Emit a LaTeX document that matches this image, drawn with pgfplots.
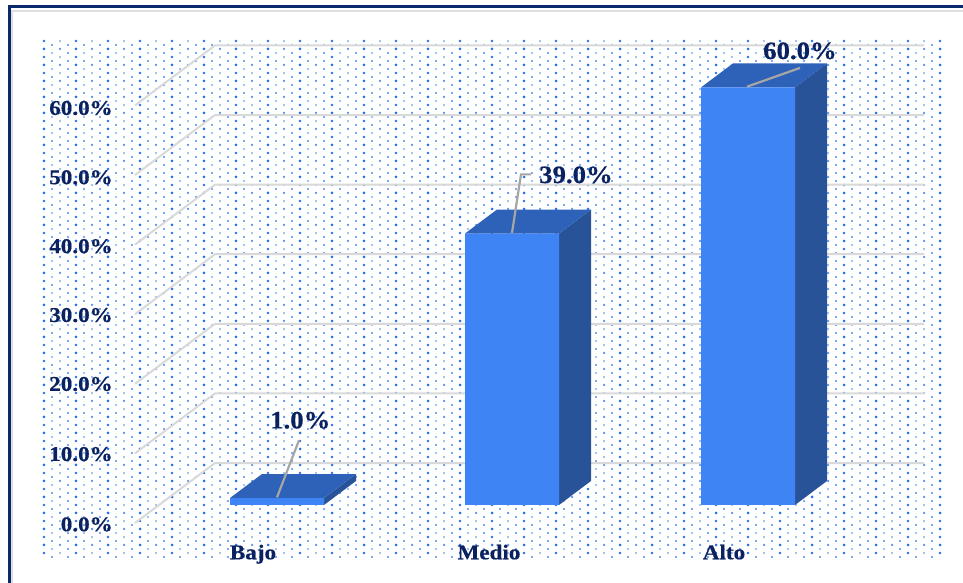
\documentclass[border=0pt]{standalone}
\usepackage{pgfplots}
\pgfplotsset{compat=1.18}
\usetikzlibrary{patterns}
\usepackage{fontspec}
\setmainfont{Liberation Serif}[BoldFeatures={FakeBold=0.5}]
\definecolor{navy}{HTML}{0B2260}
\definecolor{frameblue}{HTML}{0B2A6B}
\definecolor{barfront}{HTML}{3F84F5}
\definecolor{bartop}{HTML}{2E62B8}
\definecolor{barside}{HTML}{295398}
\definecolor{gridc}{HTML}{D9D9D9}
\definecolor{leader}{HTML}{A6A6A6}
\definecolor{dotA}{HTML}{1F6FF0}
\definecolor{dotB}{HTML}{4A8EF5}
\definecolor{dotC}{HTML}{80AEF7}
% staggered dot screen behind the plot: three layers of decreasing strength
\newcommand{\dotat}[3]{\pgfpathcircle{\pgfqpoint{#1pt}{#2pt}}{#3pt}}
\pgfdeclarepatternformonly{dotsA}{\pgfqpoint{-2pt}{-2pt}}{\pgfqpoint{34pt}{18pt}}{\pgfqpoint{32pt}{16pt}}{%
  \dotat{12}{6}{1.5}\dotat{12}{14}{1.4}\pgfusepath{fill}}
\pgfdeclarepatternformonly{dotsB}{\pgfqpoint{-2pt}{-2pt}}{\pgfqpoint{34pt}{18pt}}{\pgfqpoint{32pt}{16pt}}{%
  \dotat{4}{2}{1.2}\dotat{4}{10}{1.2}\dotat{20}{10}{1.15}\dotat{28}{6}{1.25}\pgfusepath{fill}}
\pgfdeclarepatternformonly{dotsC}{\pgfqpoint{-2pt}{-2pt}}{\pgfqpoint{34pt}{18pt}}{\pgfqpoint{32pt}{16pt}}{%
  \dotat{20}{2}{1.05}\dotat{28}{14}{1.05}\pgfusepath{fill}}
\tikzset{
  ticklab/.style={font=\bfseries\fontsize{21}{21}\selectfont,text=navy,xscale=1.1,anchor=base east,inner sep=0pt},
  catlab/.style={font=\bfseries\fontsize{21}{21}\selectfont,text=navy,xscale=1.1,anchor=base,inner sep=0pt},
  vallab/.style={font=\bfseries\fontsize{25}{25}\selectfont,text=navy,xscale=1.07,anchor=base west,inner sep=0pt},
}
\begin{document}
\begin{tikzpicture}
\begin{axis}[
  hide axis,
  scale only axis,
  x=1pt, y=6.96pt,
  xmin=0, xmax=963,
  ymin=-11.207, ymax=72.557,
  clip=true,
  every axis plot/.append style={mark=none},
]
% page background and dot screen
\addplot[fill=white,draw=none] coordinates {(0,-11.207)(963,-11.207)(963,72.557)(0,72.557)(0,-11.207)};
\fill[pattern=dotsC,pattern color=dotC] (axis cs:40,-7.5) rectangle (axis cs:944,67);
\fill[pattern=dotsB,pattern color=dotB] (axis cs:40,-7.5) rectangle (axis cs:944,67);
\fill[pattern=dotsA,pattern color=dotA] (axis cs:40,-7.5) rectangle (axis cs:944,67);

% outer frame with its soft inner edge
\addplot[draw=gray!25,line width=2.5pt] coordinates {(12,-11.207)(12,71.0)(963,71.0)};
\addplot[draw=frameblue,line width=3pt] coordinates {(9.5,-11.207)(9.5,71.63)(963,71.63)};

% floor edge and back wall gridlines, 0% to 60%
\addplot[gridc,line width=2pt] coordinates {(135,-2.59)(215,6.03)(924,6.03)};
\addplot[gridc,line width=2pt] coordinates {(135,7.41)(215,16.03)(924,16.03)};
\addplot[gridc,line width=2pt] coordinates {(135,17.41)(215,26.03)(924,26.03)};
\addplot[gridc,line width=2pt] coordinates {(135,27.41)(215,36.03)(924,36.03)};
\addplot[gridc,line width=2pt] coordinates {(135,37.41)(215,46.03)(924,46.03)};
\addplot[gridc,line width=2pt] coordinates {(135,47.41)(215,56.03)(924,56.03)};
\addplot[gridc,line width=2pt] coordinates {(135,57.41)(215,66.03)(924,66.03)};

% Bajo = 1%
\addplot[fill=barside,draw=none] coordinates {(324,0)(356,3.45)(356,4.45)(324,1)(324,0)};
\addplot[fill=bartop,draw=none] coordinates {(230,1)(324,1)(356,4.45)(262,4.45)(230,1)};
\addplot[fill=barfront,draw=none] coordinates {(230,0)(324,0)(324,1)(230,1)(230,0)};
% Medio = 39%
\addplot[fill=barside,draw=none] coordinates {(559,0)(591,3.45)(591,42.45)(559,39)(559,0)};
\addplot[fill=bartop,draw=none] coordinates {(465,39)(559,39)(591,42.45)(497,42.45)(465,39)};
\addplot[fill=barfront,draw=none] coordinates {(465,0)(559,0)(559,39)(465,39)(465,0)};
% Alto = 60%
\addplot[fill=barside,draw=none] coordinates {(795,0)(827,3.45)(827,63.45)(795,60)(795,0)};
\addplot[fill=bartop,draw=none] coordinates {(701,60)(795,60)(827,63.45)(733,63.45)(701,60)};
\addplot[fill=barfront,draw=none] coordinates {(701,0)(795,0)(795,60)(701,60)(701,0)};

% leader lines from the bars to their value labels
\addplot[leader,line width=2.2pt] coordinates {(277,1.1)(299,9.3)};
\addplot[leader,line width=2.2pt] coordinates {(512,39.1)(521,47.5)(531,47.5)};
\addplot[leader,line width=2.2pt] coordinates {(747,60.1)(800,62.8)};

% value labels
\node[vallab] at (axis cs:270,11.0) {1.0\%};
\node[vallab] at (axis cs:539,46.26) {39.0\%};
\node[vallab] at (axis cs:763,64.08) {60.0\%};

% vertical scale labels
\node[ticklab] at (axis cs:113,-3.77) {0.0\%};
\node[ticklab] at (axis cs:113,6.33) {10.0\%};
\node[ticklab] at (axis cs:113,16.4) {20.0\%};
\node[ticklab] at (axis cs:113,26.3) {30.0\%};
\node[ticklab] at (axis cs:113,36.2) {40.0\%};
\node[ticklab] at (axis cs:113,46.1) {50.0\%};
\node[ticklab] at (axis cs:113,56.05) {60.0\%};

% category labels
\node[catlab] at (axis cs:253,-7.8) {Bajo};
\node[catlab] at (axis cs:489,-7.8) {Medio};
\node[catlab] at (axis cs:724,-7.8) {Alto};
\end{axis}
\end{tikzpicture}
\end{document}
